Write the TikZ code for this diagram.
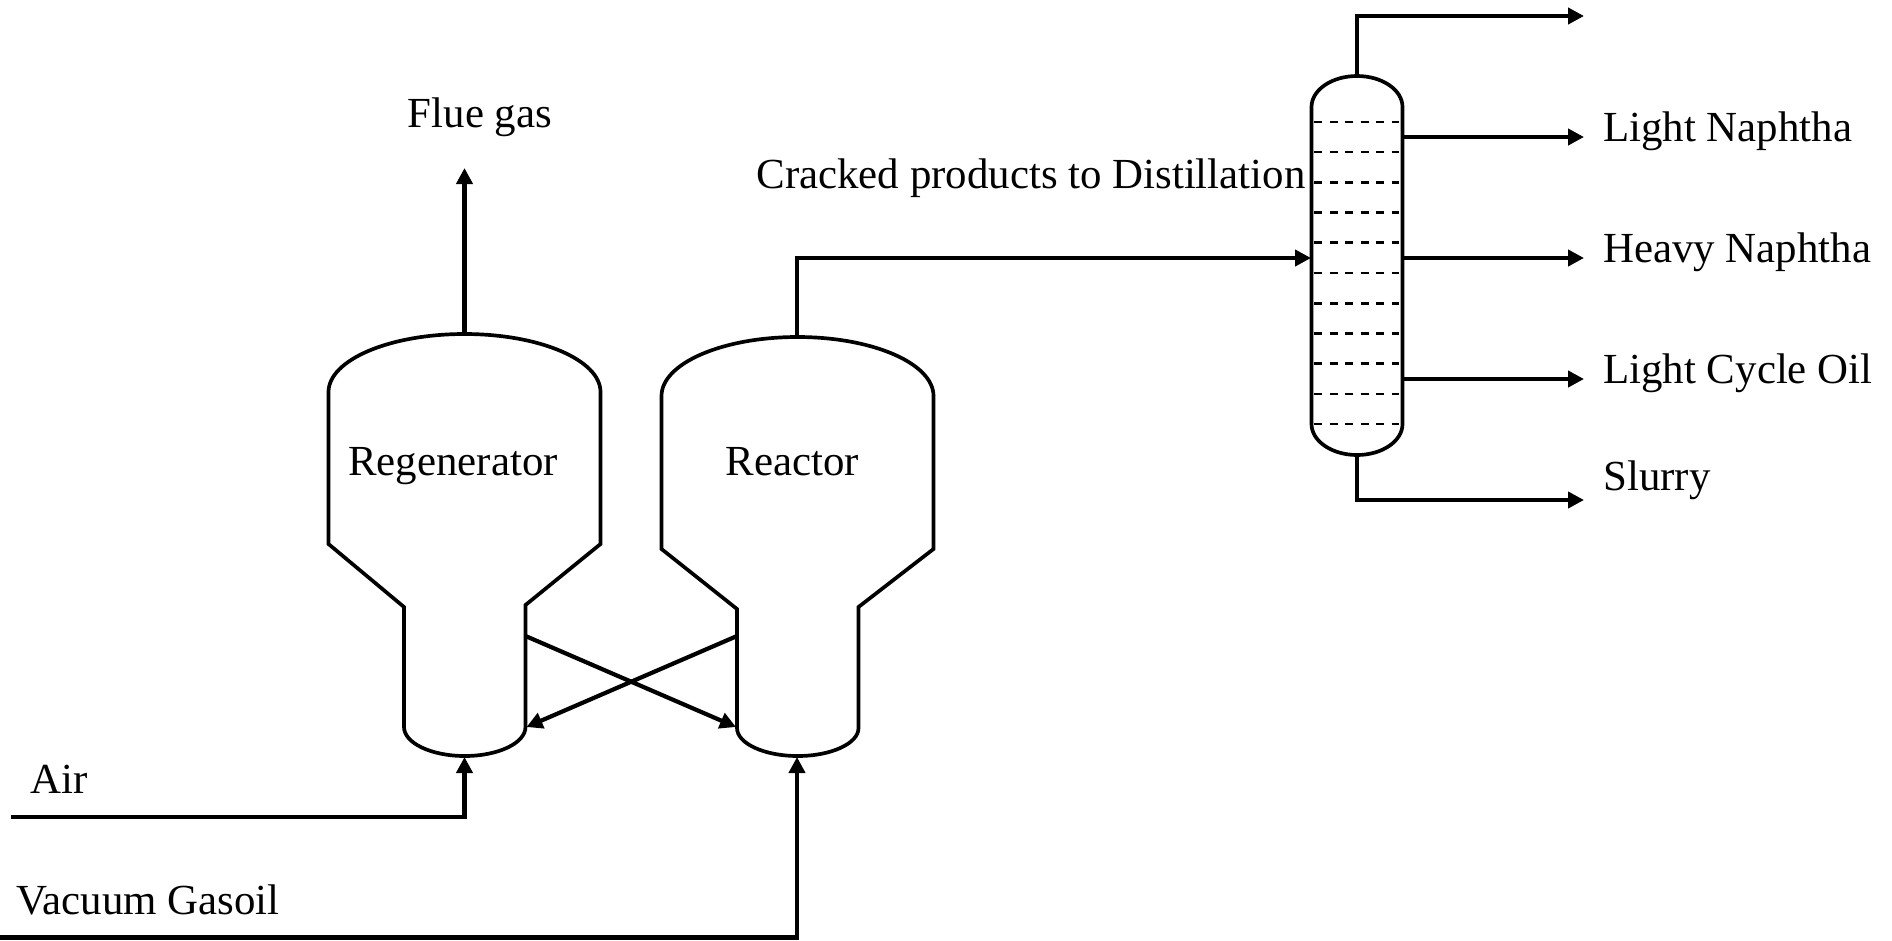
\documentclass[tikz,border=0pt]{standalone}
\usepackage{fontspec}
\setmainfont{Liberation Serif}
\usetikzlibrary{arrows.meta}
\tikzset{
  vessel/.style={line width=2.1pt},
  tray/.style={line width=1.4pt, dash pattern=on 0.165cm off 0.145cm},
  stream/.style={line width=2.4pt, -{Triangle[length=0.32cm,width=0.32cm]}},
  label/.style={font=\fontsize{24.4pt}{29pt}\selectfont, inner sep=0pt},
  tag/.style={label, anchor=west}
}
\begin{document}
\begin{tikzpicture}[x=0.02cm, y=-0.02cm]
\useasboundingbox (0,0) rectangle (1892,940);
% regenerator
\draw [vessel] (404,727) -- (404,607) -- (328.5,544) -- (328.5,392) arc [start angle=180, end angle=360, x radius=136, y radius=58] -- (600.5,544) -- (525.5,605) -- (525.5,727) arc [start angle=0, end angle=180, x radius=60.75, y radius=29];
% reactor
\draw [vessel] (737,728) -- (737,609) -- (661.5,549) -- (661.5,396) arc [start angle=180, end angle=360, x radius=136, y radius=59] -- (933.5,549) -- (858.5,607) -- (858.5,728) arc [start angle=0, end angle=180, x radius=60.75, y radius=28];
% column
\draw [vessel] (1311.5,107) arc [start angle=180, end angle=360, x radius=45.5, y radius=31] -- (1402.5,424) arc [start angle=0, end angle=180, x radius=45.5, y radius=31] -- cycle;
\foreach \y in {122,152,182.3,212.7,242.7,273,303.3,333.7,363.3,394,424}
  \draw [tray] (1314,\y) -- (1399,\y);
% ports
\coordinate (regentop) at (464.5,334);
\coordinate (regenbottom) at (464.5,757);
\coordinate (regenout) at (525.5,636);
\coordinate (regenin) at (526.5,727);
\coordinate (reactortop) at (797,337);
\coordinate (reactorbottom) at (797,757);
\coordinate (reactorout) at (737,636);
\coordinate (reactorin) at (736,727);
\coordinate (columnfeed) at (1311,258);
\coordinate (columntop) at (1357,76);
\coordinate (columnbottom) at (1357,455);
\coordinate (sideone) at (1402.5,137);
\coordinate (sidetwo) at (1402.5,258);
\coordinate (sidethree) at (1402.5,379);
\coordinate (fluegasend) at (464.5,168);
\coordinate (overheadend) at (1584,16);
\coordinate (lightend) at (1584,137);
\coordinate (heavyend) at (1584,258);
\coordinate (cycleend) at (1584,379);
\coordinate (slurryend) at (1584,500);
\coordinate (airstart) at (11,817);
\coordinate (gasoilstart) at (0,937.5);
% streams
\draw [stream] (regentop) -- (fluegasend);
\draw [stream] (reactortop) |- (columnfeed);
\draw [stream] (regenout) -- (reactorin);
\draw [stream] (reactorout) -- (regenin);
\draw [stream] (airstart) -| (regenbottom);
\draw [stream] (gasoilstart) -| (reactorbottom);
\draw [stream] (columntop) |- (overheadend);
\draw [stream] (sideone) -- (lightend);
\draw [stream] (sidetwo) -- (heavyend);
\draw [stream] (sidethree) -- (cycleend);
\draw [stream] (columnbottom) |- (slurryend);
% labels
\node [label] (fluegas) at (480,117) {Flue gas};
\node [label] (regen) at (453,466.5) {Regenerator};
\node [label] (reactor) at (792.5,462) {Reactor};
\node [label] (cracked) at (1031,178) {Cracked products to Distillation};
\node [tag] (light) at (1603,131) {Light Naphtha};
\node [tag] (heavy) at (1603,252) {Heavy Naphtha};
\node [tag] (cycle) at (1603,373) {Light Cycle Oil};
\node [tag] (slurry) at (1603,480) {Slurry};
\node [tag] (air) at (30,779) {Air};
\node [tag] (gasoil) at (16,900) {Vacuum Gasoil};
\end{tikzpicture}
\end{document}
